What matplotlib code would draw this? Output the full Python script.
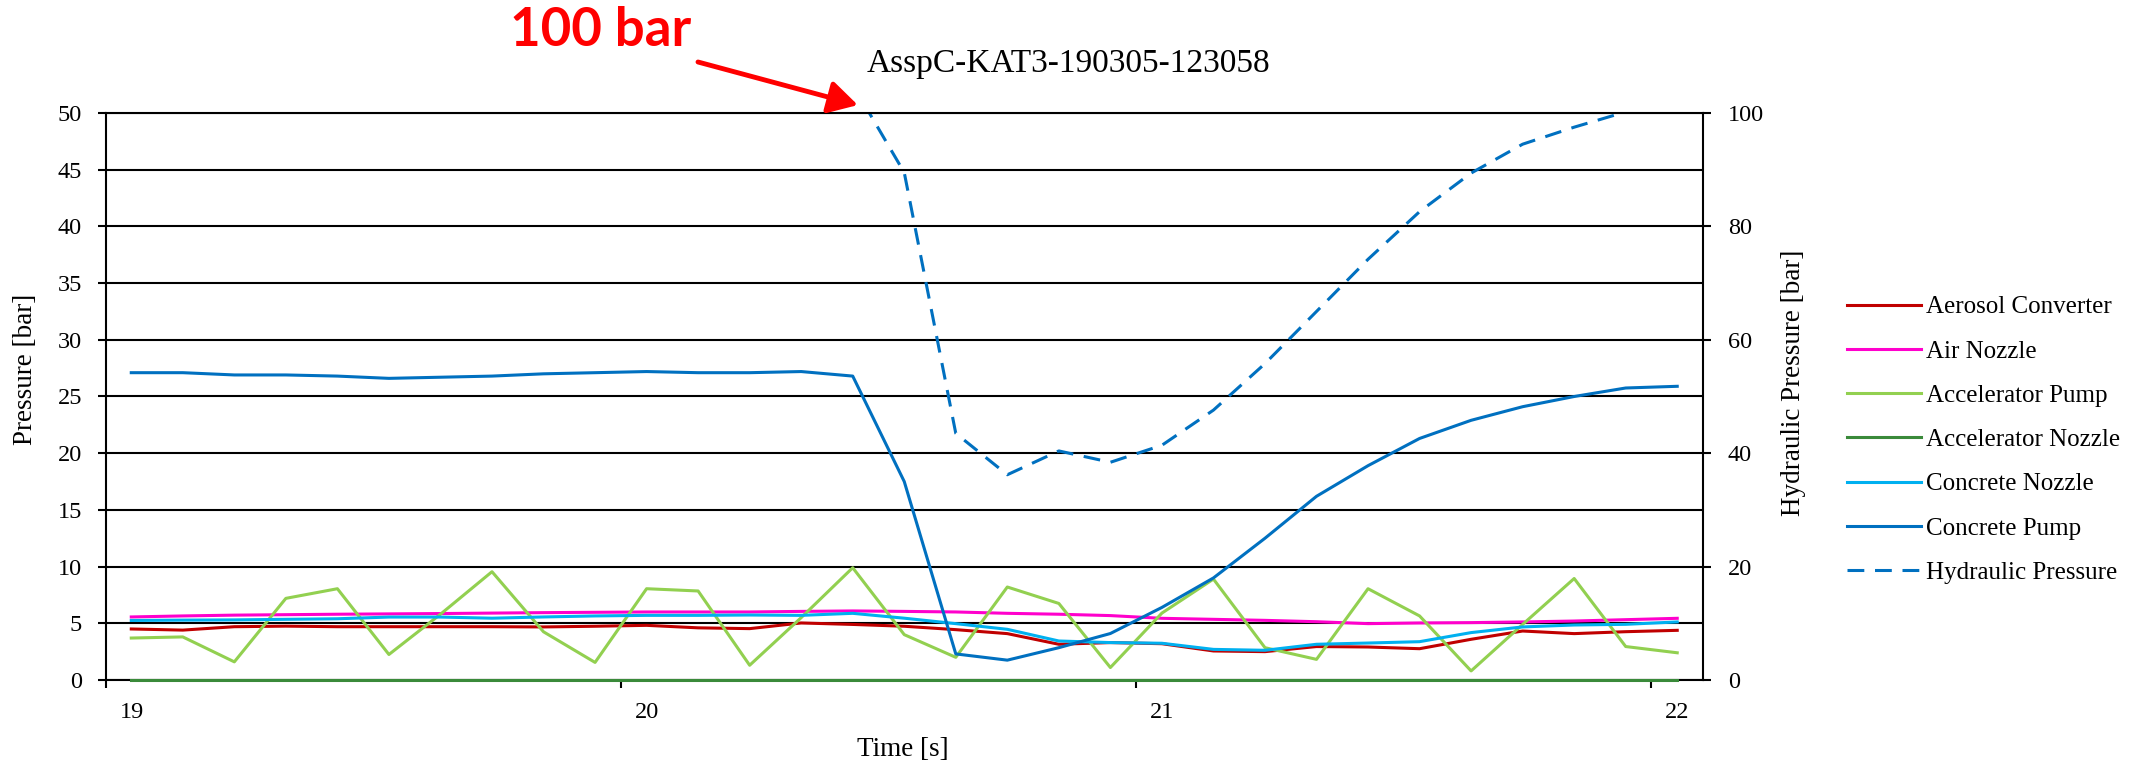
import matplotlib
matplotlib.use("Agg")
import matplotlib.pyplot as plt
import matplotlib.transforms as mtransforms
import numpy as np

plt.rcParams['font.family'] = ['Liberation Serif', 'DejaVu Serif']

# temps [s] : un point tous les 0.1 s
time = [19.05, 19.15, 19.25, 19.35, 19.45, 19.55, 19.65, 19.75, 19.85, 19.95,
        20.05, 20.15, 20.25, 20.35, 20.45, 20.55, 20.65, 20.75, 20.85, 20.95,
        21.05, 21.15, 21.25, 21.35, 21.45, 21.55, 21.65, 21.75, 21.85, 21.95,
        22.05]

aerosol_converter = [4.5, 4.4, 4.7, 4.75, 4.7, 4.7, 4.7, 4.7, 4.68, 4.74,
                     4.82, 4.6, 4.53, 5.03, 4.9, 4.74, 4.44, 4.09, 3.15, 3.3,
                     3.2, 2.56, 2.5, 2.95, 2.91, 2.76, 3.59, 4.32, 4.09, 4.26,
                     4.38]
air_nozzle = [5.56, 5.65, 5.72, 5.76, 5.8, 5.83, 5.86, 5.9, 5.94, 5.97,
              6.0, 6.0, 6.0, 6.05, 6.09, 6.05, 6.0, 5.88, 5.8, 5.68,
              5.44, 5.35, 5.26, 5.14, 4.97, 5.03, 5.06, 5.12, 5.2, 5.32,
              5.44]
accelerator_pump = [3.7, 3.8, 1.6, 7.2, 8.05, 2.25, 5.8, 9.55, 4.25, 1.55,
                    8.05, 7.85, 1.3, 5.5, 9.9, 4.0, 2.0, 8.2, 6.75, 1.1,
                    5.9, 8.9, 2.85, 1.82, 8.05, 5.65, 0.8, 4.9, 8.95, 2.95,
                    2.4]
accelerator_nozzle = [0.0] * 31
concrete_nozzle = [5.25, 5.28, 5.3, 5.35, 5.4, 5.55, 5.55, 5.45, 5.56, 5.65,
                   5.7, 5.7, 5.73, 5.7, 5.88, 5.45, 4.97, 4.47, 3.44, 3.3,
                   3.24, 2.7, 2.62, 3.15, 3.26, 3.38, 4.18, 4.68, 4.85, 4.91,
                   5.12]
concrete_pump = [27.1, 27.1, 26.9, 26.9, 26.8, 26.6, 26.7, 26.8, 27.0, 27.1,
                 27.2, 27.1, 27.1, 27.2, 26.8, 17.5, 2.3, 1.75, 2.85, 4.1,
                 6.4, 9.0, 12.5, 16.2, 18.9, 21.3, 22.9, 24.1, 25.0, 25.75,
                 25.9]
# pression hydraulique (axe de droite), au-dessus de 100 bar hors du graphe
hydraulic = [105, 105, 105, 105, 105, 105, 105, 105, 105, 105,
             105, 105, 105, 105, 105, 89.5, 43.5, 36.2, 40.4, 38.4,
             41.4, 47.6, 55.8, 65.0, 74.2, 82.6, 89.4, 94.5, 97.5, 100.2,
             102]

series = [
    ("Aerosol Converter", aerosol_converter, "#C00000"),
    ("Air Nozzle", air_nozzle, "#FF00CC"),
    ("Accelerator Pump", accelerator_pump, "#92D050"),
    ("Accelerator Nozzle", accelerator_nozzle, "#3A8A3A"),
    ("Concrete Nozzle", concrete_nozzle, "#00B0F0"),
    ("Concrete Pump", concrete_pump, "#0070C0"),
]

W, H = 2145, 765
fig = plt.figure(figsize=(W / 100, H / 100), dpi=100)
ax = fig.add_axes([105.5 / W, 1 - 680 / H, (1703 - 105.5) / W, 567 / H])
ax2 = ax.twinx()

handles = []
for name, vals, col in series:
    if name == "Accelerator Nozzle":
        l, = ax.plot(time, vals, color=col, lw=2.2, label=name, zorder=3, clip_on=False)
    else:
        l, = ax.plot(time, vals, color=col, lw=2.2, label=name)
    handles.append(l)

l, = ax2.plot(time, hydraulic, color="#0070C0", lw=2.2, ls=(0, (5.5, 3.5)),
              label="Hydraulic Pressure")
handles.append(l)

ax.set_xlim(19, 22.1)
ax.set_ylim(0, 50)
ax2.set_ylim(0, 100)
ax.set_yticks(np.arange(0, 51, 5))
ax2.set_yticks(np.arange(0, 101, 20))
ax.set_xticks([19, 20, 21, 22])

ax.set_axisbelow(True)
ax.yaxis.grid(True, color="black", lw=1.5)
ax.xaxis.grid(False)

for a in (ax, ax2):
    for s in a.spines.values():
        s.set_color("black")
        s.set_linewidth(1.5)
ax.spines['top'].set_visible(False)
ax.spines['right'].set_visible(False)
ax2.spines['left'].set_visible(False)
ax2.spines['bottom'].set_visible(False)

ax.tick_params(axis='y', direction='out', length=6, width=1.5, labelsize=17.5, pad=11)
ax.tick_params(axis='x', direction='out', length=6, width=1.5, labelsize=17.5, pad=10)
ax2.tick_params(axis='y', direction='out', length=6, width=1.5, labelsize=17.5, pad=12)

# les etiquettes de l'axe X sont decalees a droite comme dans Excel
shift = mtransforms.ScaledTranslation(0.26, 0, fig.dpi_scale_trans)
for lab in ax.get_xticklabels():
    lab.set_transform(lab.get_transform() + shift)

ax.set_ylabel("Pressure [bar]", fontsize=19.5)
ax.yaxis.set_label_coords(-0.042, 0.548)
ax2.set_ylabel("Hydraulic Pressure [bar]", fontsize=19.5)
ax2.yaxis.set_label_coords(1.049, 0.524)
ax.set_xlabel("Time [s]", fontsize=19.5)
ax.xaxis.set_label_coords(0.499, -0.1)

fig.text(1068 / W, 1 - 64 / H, "AsspC-KAT3-190305-123058", fontsize=24,
         ha='center', va='center')

fig.legend(handles, [h.get_label() for h in handles], loc='upper left',
           bbox_to_anchor=(1847 / W, 1 - 296 / H), frameon=False, fontsize=18,
           handlelength=2.95, handletextpad=0.2, labelspacing=0.87,
           borderpad=0, borderaxespad=0)

fig.text(510 / W, 1 - 31 / H, "100 bar", fontsize=38, fontweight='bold',
         color='#FF0000', family='Lato', ha='left', va='center')
ax2.annotate("", xy=(20.46, 101.4), xycoords='data',
             xytext=(698 / W, 1 - 62 / H), textcoords='figure fraction',
             annotation_clip=False,
             arrowprops=dict(arrowstyle='-|>,head_length=0.8,head_width=0.45',
                             color='#FF0000', lw=3.5, mutation_scale=22,
                             shrinkA=0, shrinkB=0))

fig.savefig("out.png", dpi=100)
